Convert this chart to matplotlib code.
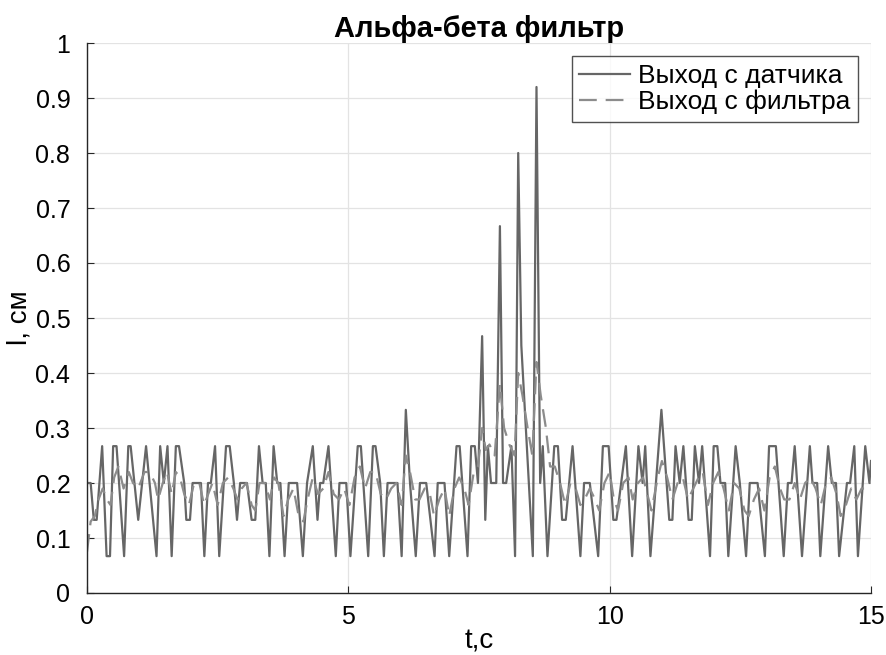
import numpy as np
import matplotlib
matplotlib.use('Agg')
import matplotlib.pyplot as plt
from matplotlib.ticker import FuncFormatter

# sensor output, polyline corners (t, l)
t_sensor = [0.00, 0.07, 0.13, 0.185, 0.29, 0.375, 0.44, 0.50, 0.565, 0.71,
            0.79, 0.835, 0.98, 1.13, 1.33, 1.40, 1.47, 1.54, 1.62, 1.70,
            1.76, 1.86, 1.90, 1.97, 2.02, 2.18, 2.245, 2.315, 2.37, 2.45,
            2.53, 2.66, 2.73, 2.81, 2.87, 2.93, 3.06, 3.15, 3.22, 3.29,
            3.36, 3.42, 3.49, 3.57, 3.64, 3.70, 3.78, 3.86, 4.02, 4.13,
            4.21, 4.32, 4.41, 4.46, 4.52, 4.62, 4.76, 4.83, 4.96, 5.04,
            5.18, 5.24, 5.38, 5.47, 5.52, 5.61, 5.68, 5.75, 5.94, 6.02,
            6.10, 6.18, 6.29, 6.37, 6.49, 6.65, 6.71, 6.84, 6.93, 7.07,
            7.13, 7.28, 7.35, 7.42, 7.48, 7.56, 7.62, 7.67, 7.73, 7.83,
            7.90, 7.96, 8.02, 8.12, 8.19, 8.25, 8.31, 8.53, 8.60, 8.67,
            8.72, 8.81, 8.94, 9.01, 9.09, 9.16, 9.29, 9.44, 9.51, 9.62,
            9.78, 9.87, 9.98, 10.07, 10.13, 10.31, 10.43, 10.55, 10.63, 10.68,
            10.78, 10.99, 11.14, 11.20, 11.26, 11.34, 11.41, 11.51, 11.57, 11.63,
            11.71, 11.77, 11.92, 11.99, 12.06, 12.12, 12.21, 12.27, 12.41, 12.49,
            12.61, 12.68, 12.83, 12.97, 13.05, 13.18, 13.33, 13.41, 13.48, 13.54,
            13.68, 13.83, 13.88, 13.97, 14.03, 14.18, 14.25, 14.33, 14.39, 14.54,
            14.60, 14.68, 14.75, 14.89, 14.97, 15.00]
l_sensor = [0.200, 0.200, 0.133, 0.133, 0.267, 0.067, 0.067, 0.267, 0.267, 0.067,
            0.267, 0.267, 0.133, 0.267, 0.067, 0.267, 0.200, 0.267, 0.067, 0.267,
            0.267, 0.200, 0.133, 0.133, 0.200, 0.200, 0.067, 0.200, 0.200, 0.267,
            0.067, 0.267, 0.267, 0.200, 0.133, 0.200, 0.200, 0.133, 0.133, 0.267,
            0.200, 0.200, 0.067, 0.267, 0.200, 0.200, 0.067, 0.200, 0.200, 0.067,
            0.200, 0.267, 0.133, 0.200, 0.200, 0.267, 0.067, 0.200, 0.200, 0.067,
            0.267, 0.267, 0.067, 0.267, 0.267, 0.200, 0.067, 0.200, 0.200, 0.067,
            0.333, 0.200, 0.067, 0.200, 0.200, 0.067, 0.200, 0.200, 0.067, 0.267,
            0.267, 0.067, 0.267, 0.267, 0.200, 0.467, 0.133, 0.267, 0.200, 0.200,
            0.667, 0.200, 0.200, 0.267, 0.067, 0.800, 0.450, 0.067, 0.920, 0.200,
            0.267, 0.067, 0.267, 0.267, 0.133, 0.133, 0.267, 0.067, 0.200, 0.200,
            0.067, 0.267, 0.267, 0.133, 0.133, 0.267, 0.067, 0.267, 0.200, 0.267,
            0.067, 0.333, 0.133, 0.133, 0.267, 0.200, 0.267, 0.133, 0.133, 0.267,
            0.200, 0.267, 0.067, 0.267, 0.267, 0.200, 0.200, 0.067, 0.267, 0.200,
            0.067, 0.200, 0.200, 0.067, 0.267, 0.267, 0.067, 0.200, 0.200, 0.267,
            0.067, 0.267, 0.200, 0.200, 0.067, 0.267, 0.200, 0.200, 0.067, 0.200,
            0.200, 0.267, 0.067, 0.267, 0.200, 0.240]

# filter output
t_filter = [0.00, 0.07, 0.15, 0.22, 0.30, 0.38, 0.45, 0.52, 0.60, 0.70,
            0.80, 0.88, 0.98, 1.10, 1.20, 1.30, 1.36, 1.45, 1.53, 1.62,
            1.70, 1.78, 1.86, 1.95, 2.05, 2.15, 2.24, 2.32, 2.40, 2.50,
            2.60, 2.70, 2.80, 2.88, 2.96, 3.05, 3.15, 3.22, 3.30, 3.40,
            3.50, 3.58, 3.66, 3.76, 3.85, 3.95, 4.05, 4.14, 4.22, 4.32,
            4.42, 4.52, 4.62, 4.72, 4.82, 4.92, 5.02, 5.12, 5.22, 5.32,
            5.42, 5.52, 5.62, 5.72, 5.82, 5.92, 6.02, 6.10, 6.18, 6.28,
            6.36, 6.46, 6.56, 6.64, 6.74, 6.84, 6.93, 7.03, 7.12, 7.22,
            7.30, 7.40, 7.48, 7.56, 7.63, 7.70, 7.80, 7.90, 7.98, 8.08,
            8.18, 8.25, 8.33, 8.43, 8.52, 8.60, 8.68, 8.78, 8.86, 8.95,
            9.05, 9.15, 9.25, 9.35, 9.44, 9.52, 9.62, 9.72, 9.80, 9.90,
            10.00, 10.08, 10.16, 10.26, 10.36, 10.44, 10.54, 10.64, 10.72, 10.80,
            10.92, 11.00, 11.10, 11.20, 11.30, 11.40, 11.50, 11.60, 11.70, 11.78,
            11.88, 11.98, 12.08, 12.18, 12.28, 12.38, 12.48, 12.58, 12.66, 12.76,
            12.86, 12.96, 13.06, 13.16, 13.26, 13.34, 13.44, 13.54, 13.64, 13.74,
            13.84, 13.94, 14.04, 14.14, 14.24, 14.34, 14.42, 14.52, 14.62, 14.72,
            14.82, 14.92, 15.00]
l_filter = [0.075, 0.13, 0.14, 0.17, 0.19, 0.17, 0.16, 0.21, 0.23, 0.19,
            0.22, 0.20, 0.19, 0.22, 0.22, 0.20, 0.17, 0.20, 0.22, 0.18,
            0.22, 0.21, 0.18, 0.16, 0.20, 0.20, 0.16, 0.18, 0.20, 0.16,
            0.20, 0.21, 0.19, 0.17, 0.19, 0.20, 0.16, 0.15, 0.20, 0.20,
            0.17, 0.21, 0.20, 0.14, 0.17, 0.19, 0.14, 0.13, 0.17, 0.21,
            0.18, 0.19, 0.22, 0.18, 0.17, 0.19, 0.16, 0.21, 0.23, 0.19,
            0.22, 0.22, 0.18, 0.17, 0.19, 0.20, 0.16, 0.25, 0.22, 0.17,
            0.17, 0.19, 0.18, 0.14, 0.17, 0.19, 0.14, 0.19, 0.21, 0.19,
            0.16, 0.22, 0.23, 0.30, 0.26, 0.27, 0.25, 0.38, 0.30, 0.27,
            0.25, 0.40, 0.36, 0.30, 0.25, 0.42, 0.36, 0.30, 0.23, 0.23,
            0.20, 0.16, 0.20, 0.19, 0.16, 0.17, 0.19, 0.17, 0.15, 0.20,
            0.22, 0.17, 0.15, 0.20, 0.21, 0.17, 0.20, 0.21, 0.18, 0.15,
            0.21, 0.24, 0.21, 0.17, 0.20, 0.21, 0.17, 0.19, 0.21, 0.22,
            0.16, 0.20, 0.22, 0.19, 0.15, 0.20, 0.19, 0.15, 0.14, 0.17,
            0.19, 0.15, 0.21, 0.23, 0.19, 0.17, 0.17, 0.20, 0.17, 0.20,
            0.21, 0.19, 0.16, 0.20, 0.21, 0.18, 0.14, 0.16, 0.19, 0.17,
            0.19, 0.19, 0.20]

labels = ['Выход с датчика', 'Выход с фильтра']

plt.rcParams['font.family'] = ['Liberation Sans', 'DejaVu Sans']

fig = plt.figure(figsize=(8.87, 6.55), dpi=100)
ax = fig.add_axes([87 / 887, 1 - 593 / 655, 784 / 887, 550 / 655])

ax.plot(t_sensor, l_sensor, '-', color='#666666', lw=1.6, label=labels[0])
ax.plot(t_filter, l_filter, '--', color='#8c8c8c', lw=1.6, dashes=(8, 4),
        label=labels[1])

ax.set_xlim(0, 15)
ax.set_ylim(0, 1)
ax.set_xticks([0, 5, 10, 15])
ax.set_yticks(np.arange(0, 1.01, 0.1))
ax.yaxis.set_major_formatter(FuncFormatter(lambda v, p: f'{v:g}'))
ax.grid(True, color='#e3e3e3', lw=0.9)
ax.set_axisbelow(True)
for side in ['top', 'right']:
    ax.spines[side].set_visible(False)
for side in ['left', 'bottom']:
    ax.spines[side].set_color('#262626')
    ax.spines[side].set_linewidth(1.0)
ax.tick_params(direction='in', length=5, labelsize=18, colors='#262626',
               labelcolor='black')
ax.tick_params(axis='y', pad=12)
ax.tick_params(axis='x', pad=9)

ax.set_title('Альфа-бета фильтр', fontsize=21, fontweight='bold', pad=4)
ax.set_xlabel('t,c', fontsize=20, labelpad=-1)
ax.set_ylabel('l, см', fontsize=20, labelpad=2)

leg = ax.legend(loc='upper right', fontsize=19, frameon=True, fancybox=False,
                handlelength=1.9, handletextpad=0.3, borderpad=0.3,
                labelspacing=0.05, borderaxespad=0.5)
leg.get_frame().set_edgecolor('#262626')
leg.get_frame().set_linewidth(1.0)

fig.savefig('out.png', dpi=100)
